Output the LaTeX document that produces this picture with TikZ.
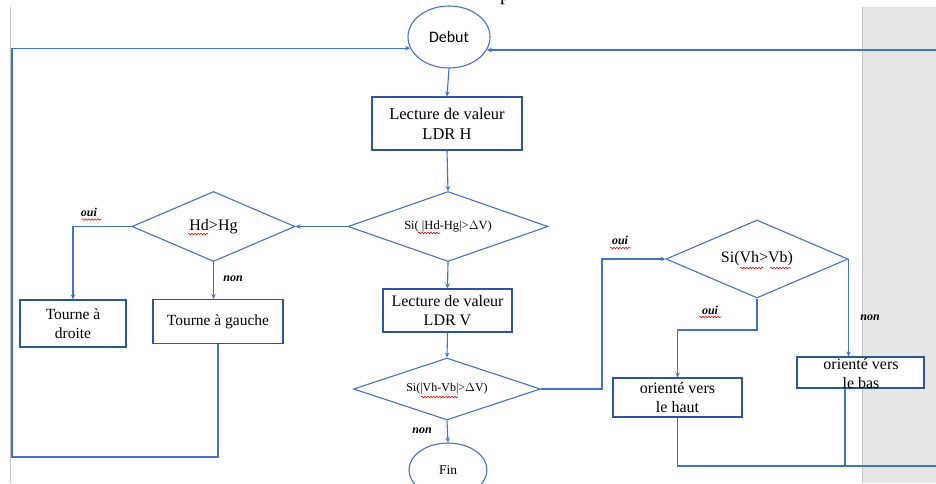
\documentclass[tikz,border=0pt]{standalone}
\usepackage{fontspec}
\setmainfont{Liberation Serif}
\newfontfamily\calibri{Carlito}
\usetikzlibrary{shapes.geometric,arrows.meta,decorations.pathmorphing}
\definecolor{lineblue}{HTML}{4472C4}
\definecolor{boxblue}{HTML}{2F5597}
\definecolor{pagegray}{HTML}{E6E6E6}
\definecolor{edgegray}{HTML}{C4C4C4}
\begin{document}
\begin{tikzpicture}[x=1pt,y=-1pt,
  conn/.style={draw=lineblue,line width=1.1pt},
  arr/.style={conn,-{Stealth[length=5pt,width=4.5pt]}},
  procbox/.style={rectangle,draw=boxblue,line width=1.1pt,fill=white,inner sep=0pt,align=center},
  decision/.style={diamond,draw=lineblue,line width=1.1pt,fill=white,inner sep=0pt,align=center},
  term/.style={ellipse,draw=lineblue,line width=1.1pt,fill=white,inner sep=0pt},
  yesno/.style={font=\fontsize{12}{14}\selectfont\bfseries\itshape},
  squig/.style={draw=red,line width=0.6pt,decorate,decoration={snake,amplitude=0.8pt,segment length=3pt}}
]
\useasboundingbox (0,0) rectangle (936,483);
% page background elements
\fill[pagegray] (862,7) rectangle (936,483);
\draw[edgegray,line width=1pt] (862,7) -- (862,483);
\draw[edgegray,line width=1pt] (10,7) -- (10,483);
\node[anchor=base,font=\fontsize{20}{24}\selectfont] (ptitle) at (505,0) {p};

% nodes
\node[term,minimum width=82pt,minimum height=62pt] (debut) at (449,37) {\calibri\fontsize{16}{18}\selectfont Debut};
\node[procbox,minimum width=150pt,minimum height=53pt,font=\fontsize{16.5}{20}\selectfont] (lectH) at (447,123.5) {Lecture de valeur\\LDR H};
\node[decision,minimum width=200pt,minimum height=70pt,aspect=2.86,font=\fontsize{12.5}{14}\selectfont] (d1) at (448,226.5) {Si( |Hd-Hg|>$\Delta$V)};
\node[decision,minimum width=163pt,minimum height=70pt,aspect=2.33,font=\fontsize{16}{18}\selectfont] (hd) at (213.5,226.5) {Hd>Hg};
\node[procbox,minimum width=106pt,minimum height=47pt,font=\fontsize{15.5}{19}\selectfont] (droite) at (73,323.5) {Tourne à\\droite};
\node[procbox,minimum width=130pt,minimum height=44pt,font=\fontsize{15.5}{19}\selectfont] (gauche) at (218,321.5) {Tourne à gauche};
\node[procbox,minimum width=129pt,minimum height=43pt,font=\fontsize{16}{18.5}\selectfont] (lectV) at (447.5,310.5) {Lecture de valeur\\LDR V};
\node[decision,minimum width=187pt,minimum height=62pt,aspect=3,font=\fontsize{12}{14}\selectfont] (d3) at (447,389) {Si(|Vh-Vb|>$\Delta$V)};
\node[term,minimum width=78pt,minimum height=54pt,font=\fontsize{13.5}{16}\selectfont] (fin) at (448,470) {Fin};
\node[decision,minimum width=182pt,minimum height=78pt,aspect=2.33,font=\fontsize{16}{18}\selectfont] (d4) at (757,259) {Si(Vh>Vb)};
\node[procbox,minimum width=129pt,minimum height=39pt,font=\fontsize{16}{19}\selectfont] (haut) at (677.5,397.5) {orienté vers\\le haut};
\node[procbox,minimum width=127pt,minimum height=31pt] (bas) at (860.5,372.5) {};
\node[align=center,inner sep=0pt,font=\fontsize{16}{19}\selectfont] (basT) at (861,374) {orienté vers\\le bas};

% helper coordinates
\coordinate (rin) at (936,50);
\coordinate (lcorner) at (12,457);
\coordinate (rbend) at (602,389);
\coordinate (mid4) at (757,330);
\coordinate (bot) at (936,466);
\coordinate (bj) at (845,466);

% connectors
\draw[arr] (gauche.south) |- (lcorner) |- (debut.196);
\draw[arr] (debut.-19 -| rin) -- (debut.-19);
\draw[arr] (debut.south) -- (lectH.north);
\draw[arr] (lectH.south) -- (d1.north);
\draw[arr] (d1.west) -- (hd.east);
\draw[arr] (hd.west) -| (droite.north);
\draw[arr] (hd.south) -- (hd.south |- gauche.north);
\draw[arr] (d1.south) -- (lectV.north);
\draw[arr] (lectV.south) -- (d3.north);
\draw[arr] (d3.south) -- (fin.north);
\draw[arr] (d3.east) -- (rbend) |- (d4.west);
\draw[arr] (d4.south) -- (mid4) -| (haut.north);
\draw[arr] (d4.east) -- (d4.east |- bas.north);
\draw[conn] (haut.south) |- (bot);
\draw[conn] (bj |- bas.south) -- (bj);

% labels
\node[yesno] (l1) at (89,212) {oui};
\node[yesno] (l2) at (233,279) {non};
\node[yesno] (l3) at (422,431) {non};
\node[yesno] (l4) at (620,240) {oui};
\node[yesno] (l5) at (710,310) {oui};
\node[yesno] (l6) at (870,318) {non};

% spell-check squiggles
\draw[squig] (82,219.5) -- (101,219.5);
\draw[squig] (188,234) -- (208,234);
\draw[squig] (418,233) -- (440,233);
\draw[squig] (421,397) -- (458,397);
\draw[squig] (610,248) -- (631,248);
\draw[squig] (740,268) -- (763,268);
\draw[squig] (770,268) -- (791,268);
\draw[squig] (699,317) -- (721,317);
\end{tikzpicture}
\end{document}
